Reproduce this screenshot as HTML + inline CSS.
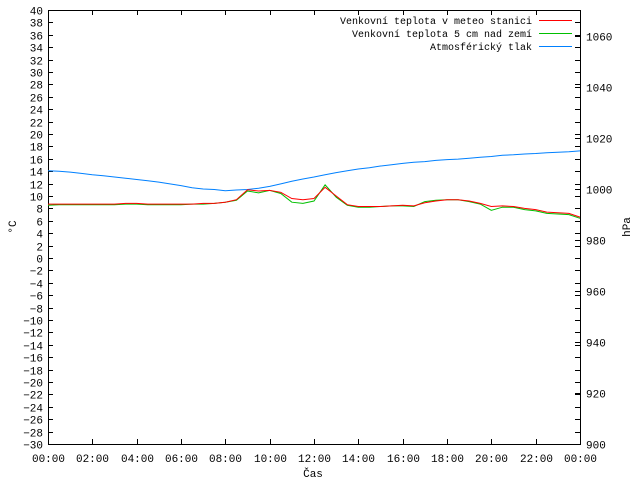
<!DOCTYPE html>
<html><head><meta charset="utf-8"><style>
body{margin:0;background:#fff}
svg{display:block;font-family:"Liberation Mono",monospace;font-size:11px}
</style></head><body>
<svg id="c" width="640" height="480" xmlns="http://www.w3.org/2000/svg"></svg>
<script>
const hours = [0,0.5,1,1.5,2,2.5,3,3.5,4,4.5,5,5.5,6,6.5,7,7.5,8,8.5,9,9.5,10,10.5,11,11.5,12,12.5,13,13.5,14,14.5,15,15.5,16,16.5,17,17.5,18,18.5,19,19.5,20,20.5,21,21.5,22,22.5,23,23.5,24];
const tempMeteo = [8.7,8.7,8.7,8.7,8.7,8.7,8.7,8.8,8.8,8.7,8.7,8.7,8.7,8.7,8.8,8.8,9.0,9.4,11.0,10.8,10.9,10.6,9.6,9.4,9.6,11.4,10.0,8.6,8.3,8.3,8.3,8.4,8.5,8.4,8.9,9.2,9.4,9.4,9.2,8.8,8.3,8.4,8.3,8.0,7.8,7.4,7.3,7.2,6.6];
const temp5cm = [8.5,8.6,8.6,8.6,8.6,8.6,8.6,8.7,8.7,8.6,8.6,8.6,8.6,8.7,8.7,8.8,9.0,9.3,10.8,10.5,10.9,10.4,9.0,8.8,9.2,11.8,9.8,8.5,8.2,8.2,8.3,8.4,8.4,8.3,9.1,9.3,9.4,9.4,9.1,8.7,7.7,8.2,8.2,7.8,7.6,7.2,7.1,7.0,6.4];
const pressure = [1007.0,1006.8,1006.5,1006.0,1005.5,1005.1,1004.6,1004.1,1003.6,1003.1,1002.6,1001.9,1001.2,1000.4,999.9,999.7,999.2,999.5,999.7,1000.2,1000.9,1001.9,1002.9,1003.8,1004.6,1005.5,1006.3,1007.0,1007.7,1008.2,1008.9,1009.4,1009.9,1010.4,1010.6,1011.1,1011.4,1011.6,1011.9,1012.3,1012.6,1013.1,1013.3,1013.6,1013.8,1014.1,1014.3,1014.5,1014.8];
const xTickLabels = ["00:00","02:00","04:00","06:00","08:00","10:00","12:00","14:00","16:00","18:00","20:00","22:00","00:00"];
const yTicks = [];for(let v=-30;v<=40;v+=2)yTicks.push(v);
const y2Ticks = [900,920,940,960,980,1000,1020,1040,1060];

const L=48,R=580,T=10,B=444;
const xs=h=>L+(R-L)*h/24;
const ys=v=>B-(B-T)*(v+30)/70;
const y2s=p=>B-(B-T)*(p-900)/170;
const svg=document.getElementById('c');
const NS='http://www.w3.org/2000/svg';
function mk(tag,attrs,parent){const e=document.createElementNS(NS,tag);for(const k in attrs)e.setAttribute(k,attrs[k]);(parent||svg).appendChild(e);return e;}
function txt(x,y,s,anchor,parent){const t=mk('text',{x:x,y:y,'text-anchor':anchor,fill:'#000'},parent);t.textContent=s;return t;}

const g=mk('g',{});


const frame=mk('rect',{x:L+0.5,y:T+0.5,width:R-L,height:B-T,fill:'none',stroke:'#000','stroke-width':1},g);


yTicks.forEach(v=>{const y=Math.round(ys(v))+0.5;
 mk('line',{x1:L,x2:L+5,y1:y,y2:y,stroke:'#000'},g);
 mk('line',{x1:R-5,x2:R,y1:y,y2:y,stroke:'#000'},g);
 const t=txt(L-5,y+4,String(v).replace('-','−'),'end',g);
 
 
});
y2Ticks.forEach(v=>{const y=Math.round(y2s(v))+0.5;
 mk('line',{x1:R-5,x2:R,y1:y,y2:y,stroke:'#000'},g);
 const t=txt(R+6,y+4,String(v),'start',g);
 
 
});
xTickLabels.forEach((s,i)=>{const x=Math.round(xs(i*2))+0.5;
 mk('line',{x1:x,x2:x,y1:B-5,y2:B,stroke:'#000'},g);
 mk('line',{x1:x,x2:x,y1:T,y2:T+5,stroke:'#000'},g);
 const t=txt(x,B+18,s,'middle',g);
 
 
});
const xt=txt(313,477,'Čas','middle');


const yt=txt(0,0,'°C','middle');yt.setAttribute('transform','translate(16,227) rotate(-90)');


const y2t=txt(0,0,'hPa','middle');y2t.setAttribute('transform','translate(630,227) rotate(-90)');



function line(vals,sc,color,name){const pts=vals.map((v,i)=>xs(hours[i]).toFixed(1)+','+sc(v).toFixed(1)).join(' ');
 const p=mk('polyline',{points:pts,fill:'none',stroke:color,'stroke-width':1});
 
 }
line(pressure,y2s,'#0080ff','series-pressure');
line(temp5cm,ys,'#00c000','series-temp-5cm');
line(tempMeteo,ys,'#ff0000','series-temp-meteo');

const leg=[['Venkovní teplota v meteo stanici','#ff0000'],['Venkovní teplota 5 cm nad zemí','#00c000'],['Atmosférický tlak','#0080ff']];
leg.forEach((e,i)=>{const y=20+i*13;
 const t=txt(532,y+4,e[0],'end');t.setAttribute('font-size','10px');
 
 
 const l=mk('line',{x1:539,x2:572,y1:y+0.5,y2:y+0.5,stroke:e[1]});
 
 
});
</script>
</body></html>
